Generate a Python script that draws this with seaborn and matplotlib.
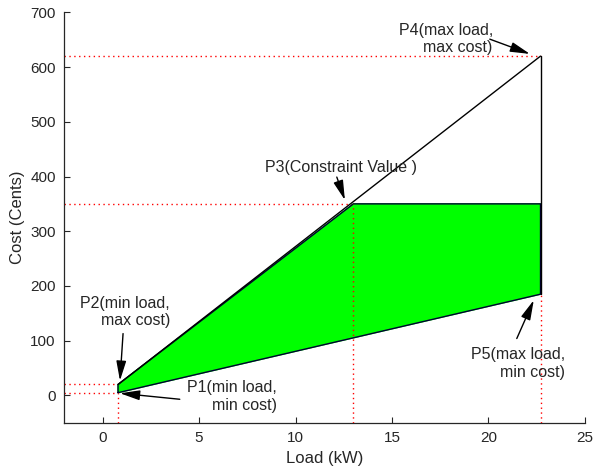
import matplotlib
matplotlib.use("Agg")
import matplotlib.pyplot as plt
import seaborn as sns
import pandas as pd

sns.set_style("ticks")
plt.rcParams['font.family'] = ['Liberation Sans', 'DejaVu Sans']

# key points (load kW, cost cents)
point_names = ["P1", "P2", "P3", "P4", "P5"]
load = [0.8, 0.8, 13.0, 22.7, 22.7]
cost = [5, 20, 350, 620, 185]
labels = ["P1(min load,\nmin cost)", "P2(min load,\nmax cost)", "P3(Constraint Value )",
          "P4(max load,\nmax cost)", "P5(max load,\nmin cost)"]
# annotation label anchors, arrow starts and arrow tips (data coords)
text_x = [9.04, 3.49, 12.35, 20.23, 23.96]
text_y = [-2, 152, 417, 651, 58]
arrow_from_x = [4.0, 1.06, 12.14, 20.07, 21.47]
arrow_from_y = [-7, 113, 399, 651, 104]
arrow_tip_x = [0.9, 0.9, 12.56, 22.15, 22.35]
arrow_tip_y = [4, 27, 357, 624, 174]

P = dict(zip(point_names, zip(load, cost)))

fig = plt.figure(figsize=(5.95, 4.74), dpi=100)
ax = fig.add_axes([0.1076, 0.108, 0.8754, 0.866])

# feasible region (green)
poly_x = [P["P1"][0], P["P2"][0], P["P3"][0], P["P4"][0], P["P5"][0]]
poly_y = [P["P1"][1], P["P2"][1], P["P3"][1], P["P3"][1], P["P5"][1]]
ax.fill(poly_x, poly_y, color="#00ff00", zorder=2)
ax.plot(poly_x + [poly_x[0]], poly_y + [poly_y[0]], color="#000033", lw=1.0, zorder=3)

# max cost line and max-load edge
df_max = pd.DataFrame({"x": [P["P2"][0], P["P4"][0]], "y": [P["P2"][1], P["P4"][1]]})
sns.lineplot(data=df_max, x="x", y="y", color="black", lw=1.0, ax=ax, zorder=4,
             estimator=None, sort=False)
df_edge = pd.DataFrame({"x": [P["P5"][0], P["P4"][0]], "y": [P["P5"][1], P["P4"][1]]})
sns.lineplot(data=df_edge, x="x", y="y", color="black", lw=1.0, ax=ax, zorder=4,
             estimator=None, sort=False)

xmin, ymin = -2, -50
# red dotted guide lines
for name in ["P1", "P2", "P3", "P4"]:
    x, y = P[name]
    ax.plot([xmin, x], [y, y], color="red", ls=(0, (1, 2.5)), lw=1.0, zorder=1)
for name in ["P1", "P3", "P5"]:
    x, y = P[name]
    ax.plot([x, x], [ymin, y], color="red", ls=(0, (1, 2.5)), lw=1.0, zorder=5)

# annotations
for i, lab in enumerate(labels):
    ha = "center" if i == 2 else "right"
    ax.text(text_x[i], text_y[i], lab, ha=ha, va="center", fontsize=11.5, zorder=6,
            linespacing=1.2)
    ax.annotate("", xy=(arrow_tip_x[i], arrow_tip_y[i]),
                xytext=(arrow_from_x[i], arrow_from_y[i]), zorder=6,
                arrowprops=dict(arrowstyle="-|>,head_length=1.2,head_width=0.3",
                                color="black", lw=1.0, shrinkA=0, shrinkB=0))

ax.set_xlim(xmin, 25)
ax.set_ylim(ymin, 700)
ax.set_xticks([0, 5, 10, 15, 20, 25])
ax.set_yticks([0, 100, 200, 300, 400, 500, 600, 700])
ax.set_xlabel("Load (kW)", fontsize=12)
ax.set_ylabel("Cost (Cents)", fontsize=12)
ax.tick_params(direction="in", length=4, labelsize=11, colors="#262626", pad=6)
sns.despine(ax=ax)
for s in ["left", "bottom"]:
    ax.spines[s].set_color("#262626")
    ax.spines[s].set_linewidth(0.9)

fig.savefig("out.png", dpi=100)
